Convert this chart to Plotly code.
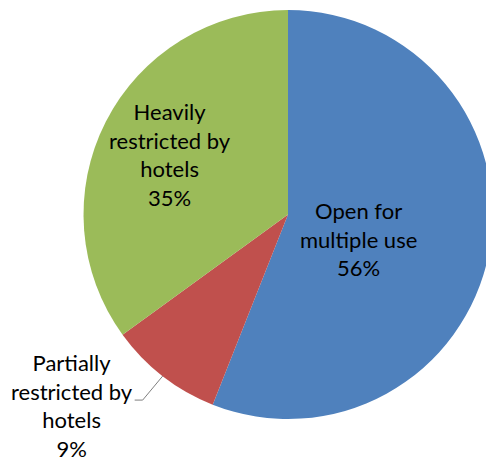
import math
import plotly.graph_objects as go

# Share of beach frontage by access type
labels = ["Open for<br>multiple use", "Partially<br>restricted by<br>hotels", "Heavily<br>restricted by<br>hotels"]
values = [56, 9, 35]
colors = ["#4F81BD", "#C0504D", "#9BBB59"]

# figure is a little wider than the window so the pie runs off the right edge
W, H = 494, 462
CX, CY, R = 288.0, 214.5, 204.5
FONT = dict(family="Lato, 'Open Sans', sans-serif", size=22, color="#000000")

fig = go.Figure(go.Pie(
    labels=labels,
    values=values,
    sort=False,
    direction="clockwise",
    rotation=0,
    marker=dict(colors=colors, line=dict(width=0)),
    textinfo="none",
    hoverinfo="label+percent",
    showlegend=False,
    domain=dict(x=[(CX - R) / W, (CX + R) / W],
                y=[1 - (CY + R) / H, 1 - (CY - R) / H]),
))

total = sum(values)
pct = [round(100 * v / total) for v in values]


def mid_dir(i):
    # unit vector (screen coords, y down) toward middle of slice i
    start = sum(values[:i]) / total
    mid = (start + values[i] / total / 2) * 2 * math.pi
    return math.sin(mid), -math.cos(mid)


def to_paper(px, py):
    return px / W, 1 - py / H


annotations = []
# inside labels for the two large slices
for i, frac in ((0, 0.65), (2, 0.645)):
    dx, dy = mid_dir(i)
    x, y = to_paper(CX + dx * R * frac, CY + dy * R * frac)
    annotations.append(dict(x=x, y=y, xref="paper", yref="paper",
                            text=f"{labels[i]}<br>{pct[i]}%", showarrow=False,
                            font=FONT, align="center"))

# outside label with leader line for the small slice
dx, dy = mid_dir(1)
ex, ey = CX + dx * R, CY + dy * R
kx, ky = ex - 20, ey + 24
tx = kx - 8
lx, ly = to_paper(72, ky + 5)
annotations.append(dict(x=lx, y=ly, xref="paper", yref="paper",
                        xanchor="center", yanchor="middle",
                        text=f"{labels[1]}<br>{pct[1]}%", showarrow=False,
                        font=FONT, align="center"))

shapes = [dict(type="path",
               path=f"M {ex/W} {1-ey/H} L {kx/W} {1-ky/H} L {tx/W} {1-ky/H}",
               xref="paper", yref="paper",
               line=dict(color="#7F7F7F", width=1))]

fig.update_layout(width=W, height=H, margin=dict(l=0, r=0, t=0, b=0),
                  paper_bgcolor="white", plot_bgcolor="white",
                  annotations=annotations, shapes=shapes)

fig.write_html("out.html",
               post_script="document.body.style.margin='0';"
                           "document.documentElement.style.overflow='hidden';"
                           "document.body.style.overflow='hidden';")
